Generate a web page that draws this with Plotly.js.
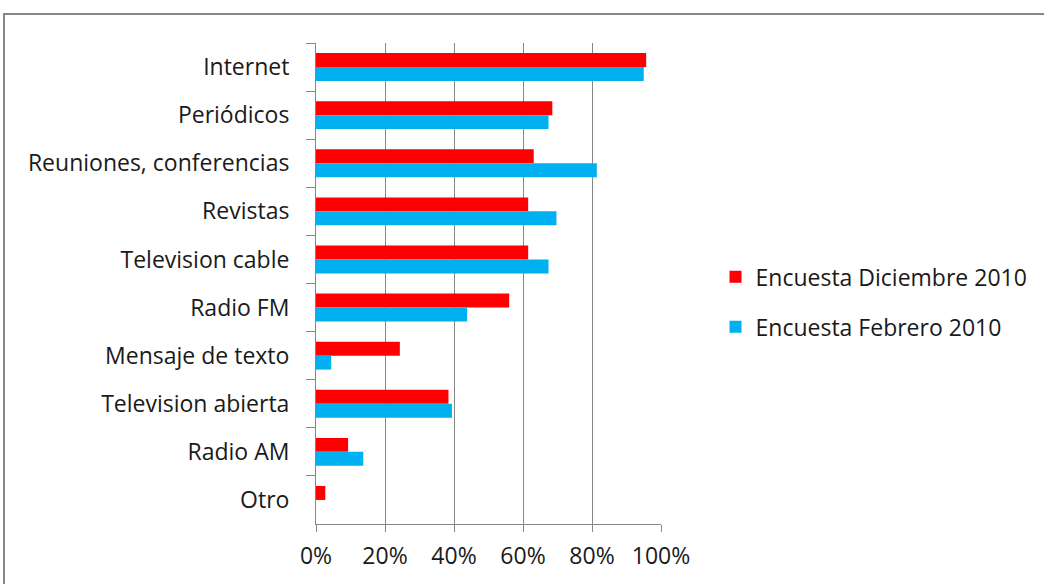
<!DOCTYPE html>
<html>
<head>
<meta charset="utf-8">
<script src="https://cdn.plot.ly/plotly-3.0.1.min.js"></script>
<style>
  html, body { margin: 0; padding: 0; background: #fff; }
  #wrap { position: relative; width: 1044px; height: 584px; overflow: hidden; }
  #frame { position: absolute; left: 3px; top: 13px; width: 1100px; height: 700px; border: 2px solid #878787; box-sizing: border-box; pointer-events: none; }
  #chart { position: absolute; left: 0; top: 0; width: 1044px; height: 584px; }
</style>
</head>
<body>
<div id="wrap">
  <div id="chart"></div>
  <div id="frame"></div>
</div>
<script>
const categories = ["Internet", "Periódicos", "Reuniones, conferencias", "Revistas", "Television cable",
                    "Radio FM", "Mensaje de texto", "Television abierta", "Radio AM", "Otro"];
const diciembre2010 = [95.7, 68.5, 63.1, 61.5, 61.5, 56.0, 24.3, 38.4, 9.3, 2.7];
const febrero2010   = [95.0, 67.4, 81.4, 69.7, 67.4, 43.8, 4.4, 39.4, 13.7, 0];
const seriesNames = ["Encuesta Diciembre 2010", "Encuesta Febrero 2010"];
const xTicks = [0, 20, 40, 60, 80, 100];

const fontFam = "Open Sans, Liberation Sans, sans-serif";
const txt = "#1a1a1a";
const fs = 23;

const traces = [
  { type: "bar", orientation: "h", name: seriesNames[0], y: categories, x: diciembre2010,
    marker: { color: "#FF0000" }, legendgroup: "a", hoverinfo: "x+y" },
  { type: "bar", orientation: "h", name: seriesNames[1], y: categories, x: febrero2010,
    marker: { color: "#00B0F0" }, legendgroup: "b", hoverinfo: "x+y" }
];

const layout = {
  width: 1044, height: 584,
  margin: { l: 316, r: 380, t: 43, b: 60, pad: 0 },
  paper_bgcolor: "rgba(0,0,0,0)", plot_bgcolor: "#fff",
  barmode: "group", bargap: 0.42, bargroupgap: 0,
  font: { family: fontFam, size: fs, color: txt },
  xaxis: {
    range: [0, 100], tickvals: xTicks, ticktext: xTicks.map(v => v + "%"),
    showgrid: true, gridcolor: "#878787", gridwidth: 1,
    showline: true, linecolor: "#878787", linewidth: 1,
    ticks: "outside", ticklen: 7, tickcolor: "#878787",
    zeroline: false, ticklabelstandoff: 4,
    tickfont: { family: fontFam, size: fs, color: txt }
  },
  yaxis: {
    type: "category", autorange: "reversed",
    showline: true, linecolor: "#878787", linewidth: 1,
    ticks: "outside", ticklen: 9, tickcolor: "#878787", tickson: "boundaries",
    showgrid: false, ticklabelstandoff: 21,
    tickfont: { family: fontFam, size: fs, color: txt }
  },
  legend: {
    x: 1.158, xanchor: "left", y: 0.462, yanchor: "middle",
    traceorder: "grouped", tracegroupgap: 17,
    font: { family: fontFam, size: fs, color: txt },
    bgcolor: "rgba(0,0,0,0)", itemwidth: 30
  },
  showlegend: true
};

Plotly.newPlot("chart", traces, layout, { displayModeBar: false, staticPlot: true });
</script>
</body>
</html>
